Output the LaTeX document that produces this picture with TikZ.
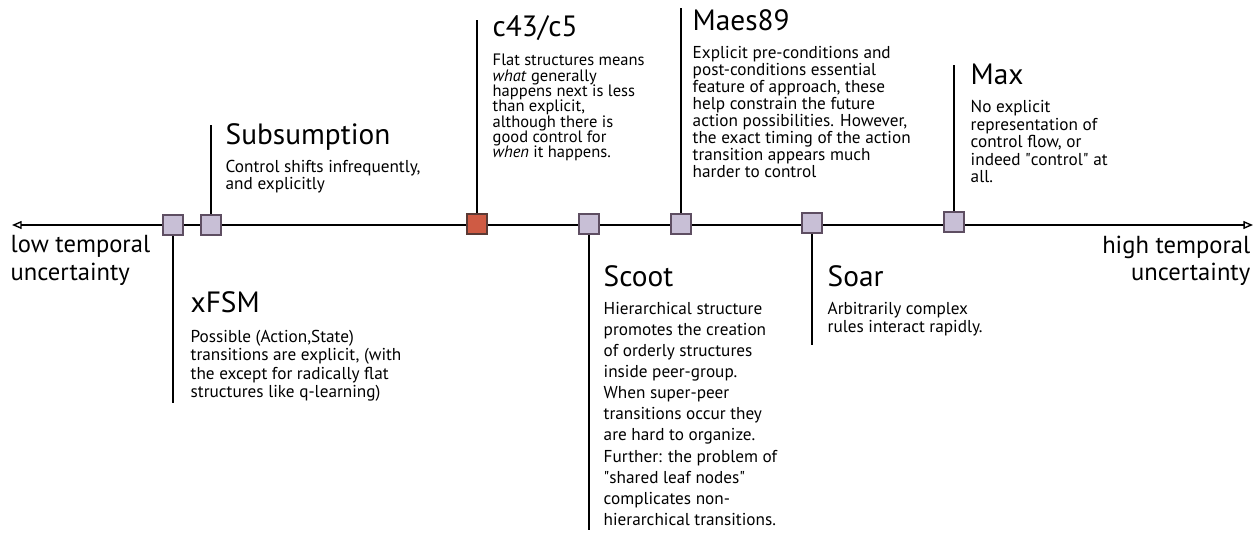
\documentclass[tikz,border=0pt]{standalone}
\usepackage{fontspec}
\setsansfont{PT Sans}
\usetikzlibrary{arrows.meta, positioning}
\definecolor{tickfill}{HTML}{C8BFD6}
\definecolor{tickline}{HTML}{5E4E62}
\definecolor{hotfill}{HTML}{CF5B44}
\definecolor{hotline}{HTML}{5A3A35}
\begin{document}
\begin{tikzpicture}[x=0.02cm, y=-0.02cm, font=\sffamily, line width=0.8pt,
    tick/.style={rectangle, draw=tickline, fill=tickfill, line width=0.9pt, minimum size=0.41cm, inner sep=0pt},
    ttl/.style={font=\sffamily\fontsize{16.7}{20}\selectfont, inner sep=0pt, anchor=base west},
    txt/.style={font=\sffamily\fontsize{9.8}{#1}\selectfont, inner sep=0pt, align=left, anchor=north west},
    txt/.default=9.65pt,
    lbl/.style={font=\sffamily\fontsize{14}{15.6}\selectfont, inner sep=0pt}]
\useasboundingbox (0,0) rectangle (1260,533);
\coordinate (lo) at (12,225); \coordinate (hi) at (1253,225);
\draw[{Triangle[open,length=5.5pt,width=4.5pt]}-{Triangle[open,length=5.5pt,width=4.5pt]}] (lo) -- (hi);
\node[lbl, anchor=north west, align=left]  (low)  at (10,235)   {low temporal\\uncertainty};
\node[lbl, anchor=north east, align=right] (high) at (1251,235) {high temporal\\uncertainty};
\coordinate (xfsm-e)  at (173,403); \coordinate (subs-e) at (211,125);
\coordinate (c43-e)   at (477,20);  \coordinate (scoot-e) at (589,530);
\coordinate (maes-e)  at (681,8);   \coordinate (soar-e) at (812,345);
\coordinate (max-e)   at (954,65);
\node[tick] (xfsm)  at (173,225) {};
\node[tick] (subs)  at (211,225) {};
\node[tick, fill=hotfill, draw=hotline] (c43) at (477,224) {};
\node[tick] (scoot) at (589,224) {};
\node[tick] (maes)  at (681,224) {};
\node[tick] (soar)  at (812,223) {};
\node[tick] (max)   at (954,222) {};
\draw (xfsm) -- (xfsm-e); \draw (subs) -- (subs-e); \draw (c43) -- (c43-e);
\draw (scoot) -- (scoot-e); \draw (maes) -- (maes-e); \draw (soar) -- (soar-e);
\draw (max) -- (max-e);
\node[ttl] (xfsm-t)  at (190,313) {xFSM};
\node[below=9.2pt of xfsm-t.base west, txt=10.5pt] (xfsm-b) {Possible (Action,State)\\transitions are explicit, (with\\the except for radically flat\\structures like q-learning)};
\node[ttl] (subs-t)  at (225,145) {Subsumption};
\node[below=8.3pt of subs-t.base west, txt=9.8pt] (subs-b) {Control shifts infrequently,\\and explicitly};
\node[ttl] (c43-t)   at (492,37)  {c43/c5};
\node[below=9.5pt of c43-t.base west, txt, font=\sffamily\fontsize{9.4}{8.7}\selectfont] (c43-b) {Flat structures means\\\textit{what} generally\\happens next is less\\than explicit,\\although there is\\good control for\\\textit{when} it happens.};
\node[ttl] (scoot-t) at (603,287) {Scoot};
\node[below=8.3pt of scoot-t.base west, txt=12pt] (scoot-b) {Hierarchical structure\\promotes the creation\\of orderly structures\\inside peer-group.\\When super-peer\\transitions occur they\\are hard to organize.\\Further: the problem of\\\textquotedbl shared leaf nodes\textquotedbl\\complicates non-\\hierarchical transitions.};
\node[ttl] (maes-t)  at (692,31)  {Maes89};
\node[below=8.3pt of maes-t.base west, txt] (maes-b) {Explicit pre-conditions and\\post-conditions essential\\feature of approach, these\\help constrain the future\\action possibilities. However,\\the exact timing of the action\\transition appears much\\harder to control};
\node[ttl] (soar-t)  at (827,287) {Soar};
\node[below=8.3pt of soar-t.base west, txt=10.4pt] (soar-b) {Arbitrarily complex\\rules interact rapidly.};
\node[ttl] (max-t)   at (970,85)  {Max};
\node[below=8.3pt of max-t.base west, txt=10pt] (max-b) {No explicit\\representation of\\control flow, or\\indeed \textquotedbl control\textquotedbl{} at\\all.};
\end{tikzpicture}
\end{document}
